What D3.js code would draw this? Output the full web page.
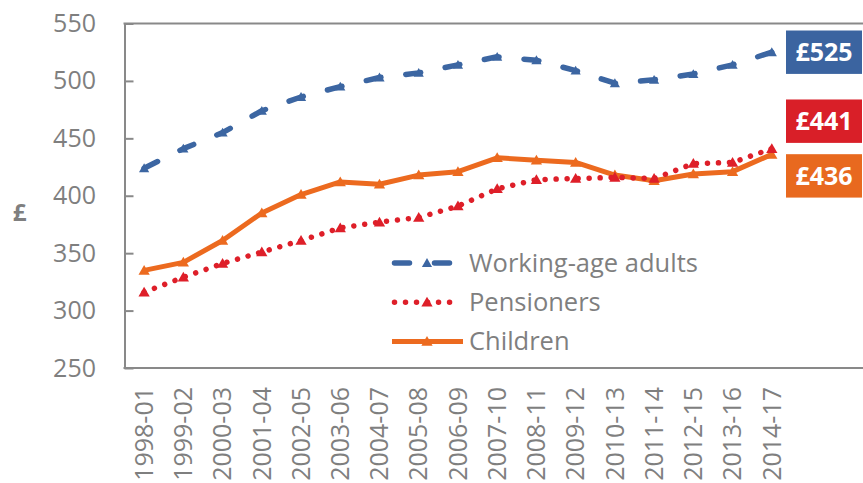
<!DOCTYPE html>
<html>
<head>
<meta charset="utf-8">
<script src="https://cdn.jsdelivr.net/npm/d3@7"></script>
<style>
  body { margin: 0; background: #fff; }
  text { font-family: "Open Sans", sans-serif; }
</style>
</head>
<body>
<script>
// data
var years = ["1998-01", "1999-02", "2000-03", "2001-04", "2002-05", "2003-06", "2004-07", "2005-08", "2006-09",
             "2007-10", "2008-11", "2009-12", "2010-13", "2011-14", "2012-15", "2013-16", "2014-17"];
var workingAge = [424, 441, 455, 474, 486, 495, 503, 507, 514, 521, 518, 509, 498, 501, 506, 514, 525];
var pensioners = [316, 329, 341, 351, 361, 372, 377, 381, 391, 406, 414, 415, 416, 415, 428, 429, 441];
var children   = [335, 342, 361, 385, 401, 412, 410, 418, 421, 433, 431, 429, 418, 413, 419, 421, 436];
var yTicks = [250, 300, 350, 400, 450, 500, 550];
var seriesNames = ["Working-age adults", "Pensioners", "Children"];

// Use the margin convention practice
var width = 863, height = 483;
var margin = {top: 23.5, left: 124.5, bottom: 368, right: 863};
var step = 39.23;  // category width
var axisColor = "#898989", textColor = "#7f7f7f";

var series = [
  {name: seriesNames[0], values: workingAge, color: "#3c66a2", box: "#3b64a0", width: 5.5, dash: "15,25", marker: 45},
  {name: seriesNames[1], values: pensioners, color: "#de1f29", box: "#d91f28", width: 5.5, dash: "0.01,11", marker: 55},
  {name: seriesNames[2], values: children,   color: "#ec6a1f", box: "#e8691f", width: 5,   dash: null,    marker: 55}
];

var svg = d3.select("body")
            .append("svg")
            .attr("width", width)
            .attr("height", height);

var x = d3.scaleBand()
          .domain(years)
          .range([margin.left, margin.left + step * years.length]);

var y = d3.scaleLinear()
          .domain([250, 550])
          .range([margin.bottom, margin.top]);

function cx(i) { return x(years[i]) + x.bandwidth() / 2; }

// -------------- axes ----------------------------------
var yAxis = d3.axisLeft(y)
              .tickValues(yTicks)
              .tickSizeInner(-9)
              .tickSizeOuter(0)
              .tickPadding(28.5);

var gy = svg.append("g")
            .attr("transform", "translate(" + margin.left + ",0)")
            .call(yAxis);
gy.select(".domain").attr("stroke", axisColor).attr("stroke-width", 2);
gy.selectAll(".tick line").attr("stroke", axisColor).attr("stroke-width", 2);
gy.selectAll(".tick text")
  .attr("fill", textColor)
  .style("font-size", "25px");

// frame lines at top and bottom run to the edge
[550, 250].forEach(function(v) {
  svg.append("line")
     .attr("x1", margin.left - 1)
     .attr("x2", margin.right)
     .attr("y1", y(v))
     .attr("y2", y(v))
     .attr("stroke", axisColor)
     .attr("stroke-width", 2);
});

var xAxis = d3.axisBottom(x).tickSize(0);
var gx = svg.append("g")
            .attr("transform", "translate(0," + margin.bottom + ")")
            .call(xAxis);
gx.select(".domain").remove();
gx.selectAll(".tick text")
  .attr("transform", "rotate(-90)")
  .attr("text-anchor", "end")
  .attr("x", -19)
  .attr("y", 0)
  .attr("dy", "0.35em")
  .attr("fill", textColor)
  .style("font-size", "25px");

svg.append("text")
   .text("£")
   .attr("x", 19.5)
   .attr("y", 212)
   .attr("dy", "0.36em")
   .attr("text-anchor", "middle")
   .attr("fill", textColor)
   .style("font-size", "24px")
   .style("font-weight", "bold");

// -------------- lines ----------------------------------
var line = d3.line()
             .x(function(d, i) { return cx(i); })
             .y(function(d) { return y(d); });

var tri = function(s) { return d3.symbol().type(d3.symbolTriangle).size(s)(); };

[0, 2, 1].forEach(function(k) {
  var s = series[k];
  svg.append("path")
     .datum(s.values)
     .attr("d", line)
     .attr("fill", "none")
     .attr("stroke", s.color)
     .attr("stroke-width", s.width)
     .attr("stroke-linecap", s.dash ? "round" : "butt")
     .attr("stroke-linejoin", "round")
     .attr("stroke-dasharray", s.dash);

  svg.append("g")
     .selectAll("path")
     .data(s.values)
     .enter().append("path")
     .attr("d", tri(s.marker))
     .attr("transform", function(d, i) { return "translate(" + cx(i) + "," + (y(d) + 1) + ")"; })
     .attr("fill", s.color);
});

// -------------- legend ----------------------------------
var legend_x = 394.5, legend_y = 263, legend_gap = 39.2;
series.forEach(function(s, i) {
  var ly = legend_y + i * legend_gap;
  var g = svg.append("g");
  g.append("line")
   .attr("x1", s.dash ? legend_x : legend_x - 2.5)
   .attr("x2", s.dash ? legend_x + 57 : legend_x + 68.5)
   .attr("y1", ly)
   .attr("y2", ly)
   .attr("stroke", s.color)
   .attr("stroke-width", s.width)
   .attr("stroke-linecap", s.dash ? "round" : "butt")
   .attr("stroke-dasharray", s.dash);
  g.append("path")
   .attr("d", tri(s.marker))
   .attr("transform", "translate(" + (legend_x + 32.5) + "," + (ly + 1) + ")")
   .attr("fill", s.color);
  g.append("text")
   .text(s.name)
   .attr("x", legend_x + 74.5)
   .attr("y", ly)
   .attr("dy", "0.34em")
   .attr("fill", textColor)
   .style("font-size", "25.5px");
});

// -------------- end labels ----------------------------------
var box_w = 76, box_h = 43.4, box_x = 786, minGap = 54.7;
var labels = series.map(function(s) {
  var v = s.values[s.values.length - 1];
  return {text: "£" + v, color: s.box, cy: y(v)};
}).sort(function(a, b) { return a.cy - b.cy; });

// push overlapping labels apart around their middle
for (var i = 1; i < labels.length; i++) {
  var a = labels[i - 1], b = labels[i];
  if (b.cy - a.cy < minGap) {
    var mid = (a.cy + b.cy) / 2 - 3;
    a.cy = mid - minGap / 2;
    b.cy = mid + minGap / 2;
  }
}

var lab = svg.append("g")
             .selectAll("g")
             .data(labels)
             .enter().append("g");
lab.append("rect")
   .attr("x", box_x)
   .attr("y", function(d) { return d.cy - box_h / 2; })
   .attr("width", box_w)
   .attr("height", box_h)
   .attr("fill", function(d) { return d.color; });
lab.append("text")
   .text(function(d) { return d.text; })
   .attr("x", box_x + box_w / 2)
   .attr("y", function(d) { return d.cy; })
   .attr("dy", "0.36em")
   .attr("text-anchor", "middle")
   .attr("fill", "#fff")
   .style("font-size", "25px")
   .style("font-weight", "bold");
</script>
</body>
</html>
